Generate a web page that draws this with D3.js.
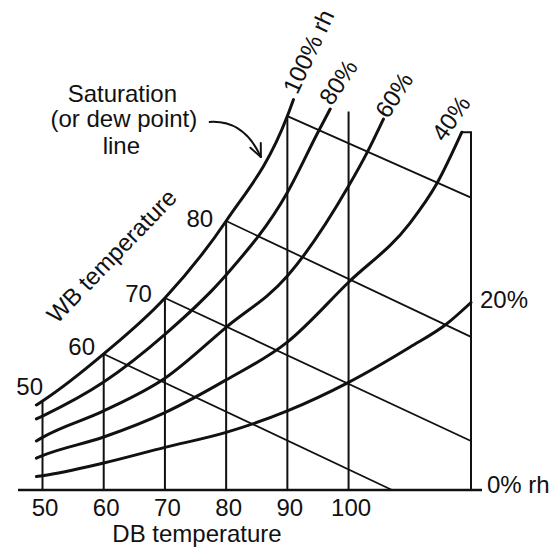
<!DOCTYPE html>
<html><head><meta charset="utf-8">
<script src="https://cdn.jsdelivr.net/npm/d3@7"></script>
<style>
html,body{margin:0;padding:0;background:#fff;}
svg{display:block;}
text{font-family:"Liberation Sans", Arial, sans-serif; fill:#111;}
</style></head><body>
<svg id="chart" width="549" height="547"></svg>
<script>
// ---- DATA ----
// Dry-bulb temperature (°F) tick labels and constant-DB lines
const dbTicks = [50, 60, 70, 80, 90, 100];
const dbLines = [50, 60, 70, 80, 90, 100, 120];
// humidity ratio (grains/lb) at the top end of each DB line
const dbLineTops = [51.7, 79.1, 111.6, 156.4, 217.4, 220, 208];

// Relative humidity curves: [DB °F, humidity ratio grains/lb]
const rh100 = [[49,49.4],[50,51.7],[60,79.1],[70,111.6],[80,156.4],[90,217.4],[91,227]];
const rh80  = [[49,41.3],[50,43],[60,62.8],[70,90.5],[80,125],[90,173],[95,208],[97,221.5]];
const rh60  = [[49,28.5],[50,30.6],[60,46],[70,65],[80,94.6],[90,124.4],[100,176.7],[103,196],[105.7,215.7]];
const rh40  = [[49,18.5],[50,20],[60,30.8],[70,45],[80,64],[90,86],[100,120.8],[110,155],[114.4,178],[118.5,208]];
const rh20  = [[49,7.8],[50,8.3],[60,15.7],[70,24.8],[80,33.5],[90,46],[100,62.6],[110,83],[116,96.5],[120,109]];
const rh0   = [[46,0],[121.8,0]];
const rhLabels = ["100% rh", "80%", "60%", "40%", "20%", "0% rh"];

// Wet-bulb lines: start on saturation curve at DB = WB, end point [DB, grains]
const wbValues = [60, 70, 80, 90];
const wbEnds = [[107.1,0],[120,28.5],[120,89],[120,170]];
const wbLabels = ["50", "60", "70", "80"];

// ---- LAYOUT ----
const svg = d3.select("#chart");
const x = d3.scaleLinear().domain([50, 120]).range([42.5, 471]);
const y = d3.scaleLinear().domain([0, 250]).range([490, 60]);
const ink = "#111";
const line = d3.line().x(d => x(d[0])).y(d => y(d[1]));
const smooth = d3.line().x(d => x(d[0])).y(d => y(d[1])).curve(d3.curveMonotoneX);

function satAt(t) {
  for (let i = 0; i < rh100.length - 1; i++) {
    const a = rh100[i], b = rh100[i + 1];
    if (t >= a[0] && t <= b[0]) return a[1] + (b[1] - a[1]) * (t - a[0]) / (b[0] - a[0]);
  }
  return rh100[rh100.length - 1][1];
}

// DB vertical lines
dbLines.forEach((t, i) => {
  const pts = [[t, 0], [t, dbLineTops[i]]];
  if (t === 120) pts.push(rh40[rh40.length - 1]);
  svg.append("path").attr("d", line(pts)).attr("fill", "none")
    .attr("stroke", ink).attr("stroke-width", 2);
});

// WB diagonal lines
wbValues.forEach((wb, i) => {
  svg.append("path").attr("d", line([[wb, satAt(wb)], wbEnds[i]])).attr("fill", "none")
    .attr("stroke", ink).attr("stroke-width", 1.8);
});

// RH curves
const curves = [rh100, rh80, rh60, rh40, rh20];
curves.forEach(c => {
  svg.append("path").attr("d", smooth(c)).attr("fill", "none")
    .attr("stroke", ink).attr("stroke-width", 3).attr("stroke-linecap", "round");
});
// 0% rh baseline
svg.append("path").attr("d", line(rh0)).attr("fill", "none")
  .attr("stroke", ink).attr("stroke-width", 2.5);

// RH labels
const allCurves = [rh100, rh80, rh60, rh40, rh20, rh0];
const rhLayout = [
  {dx: 15, dy: -48, rot: -65, anchor: "middle"},
  {dx: 8, dy: -27, rot: -56, anchor: "middle"},
  {dx: 10.6, dy: -24, rot: -57, anchor: "middle"},
  {dx: -11, dy: -14, rot: -55, anchor: "middle"},
  {dx: 9, dy: -2.5, rot: 0, anchor: "start"},
  {dx: 5, dy: -5, rot: 0, anchor: "start"}
];
rhLabels.forEach((lab, i) => {
  const e = allCurves[i][allCurves[i].length - 1];
  const L = rhLayout[i];
  svg.append("text")
    .attr("transform", `translate(${x(e[0]) + L.dx},${y(e[1]) + L.dy}) rotate(${L.rot})`)
    .attr("text-anchor", L.anchor).attr("dy", "0.35em")
    .attr("font-size", 24).text(lab);
});

// WB value labels (at saturation points)
const wbLabelLayout = [{dx: 0.5, dy: -6}, {dx: -8.7, dy: 1}, {dx: -13, dy: 3.7}, {dx: -13, dy: 5.7}];
wbLabels.forEach((lab, i) => {
  const t = +lab;
  svg.append("text").attr("x", x(t) + wbLabelLayout[i].dx).attr("y", y(satAt(t)) + wbLabelLayout[i].dy)
    .attr("text-anchor", "end").attr("font-size", 24).text(lab);
});

// WB temperature axis title
svg.append("text").attr("transform", "translate(112.5,256.7) rotate(-46)")
  .attr("text-anchor", "middle").attr("dy", "0.3em").attr("font-size", 24).text("WB temperature");

// DB axis labels
const axis = d3.axisBottom(x).tickValues(dbTicks).tickSize(0).tickPadding(9).tickFormat(d3.format("d"));
const gx = svg.append("g").attr("transform", `translate(2,${y(0)})`).call(axis);
gx.select(".domain").remove();
gx.selectAll("text").attr("font-size", 24).attr("font-family", "Liberation Sans, Arial, sans-serif").attr("fill", ink);
svg.append("text").attr("x", 197).attr("y", 541.5).attr("text-anchor", "middle")
  .attr("font-size", 24).text("DB temperature");

// Saturation annotation with arrow
const tipT = 86;
const tip = [x(tipT) - 2, y(satAt(tipT)) - 1];
const start = [tip[0] - 52, tip[1] - 35];
svg.append("path")
  .attr("d", `M${start[0]},${start[1]} C${start[0] + 26},${start[1] - 2} ${tip[0] - 10},${tip[1] - 22} ${tip[0]},${tip[1]}`)
  .attr("fill", "none").attr("stroke", ink).attr("stroke-width", 2);
const ang = Math.atan2(22, 10);
const hl = 14;
[0.42, -0.42].forEach(s => {
  const a = ang + Math.PI + s;
  svg.append("line").attr("x1", tip[0]).attr("y1", tip[1])
    .attr("x2", tip[0] + hl * Math.cos(a)).attr("y2", tip[1] + hl * Math.sin(a))
    .attr("stroke", ink).attr("stroke-width", 2).attr("stroke-linecap", "round");
});
const annoLines = ["Saturation", "(or dew point)", "line"];
const annoLayout = [{dx: -86.5, dy: -20}, {dx: -85, dy: 5}, {dx: -87.5, dy: 32}];
annoLines.forEach((t, i) => {
  svg.append("text").attr("x", start[0] + annoLayout[i].dx).attr("y", start[1] + annoLayout[i].dy)
    .attr("text-anchor", "middle").attr("font-size", 24).text(t);
});
</script>
</body></html>
